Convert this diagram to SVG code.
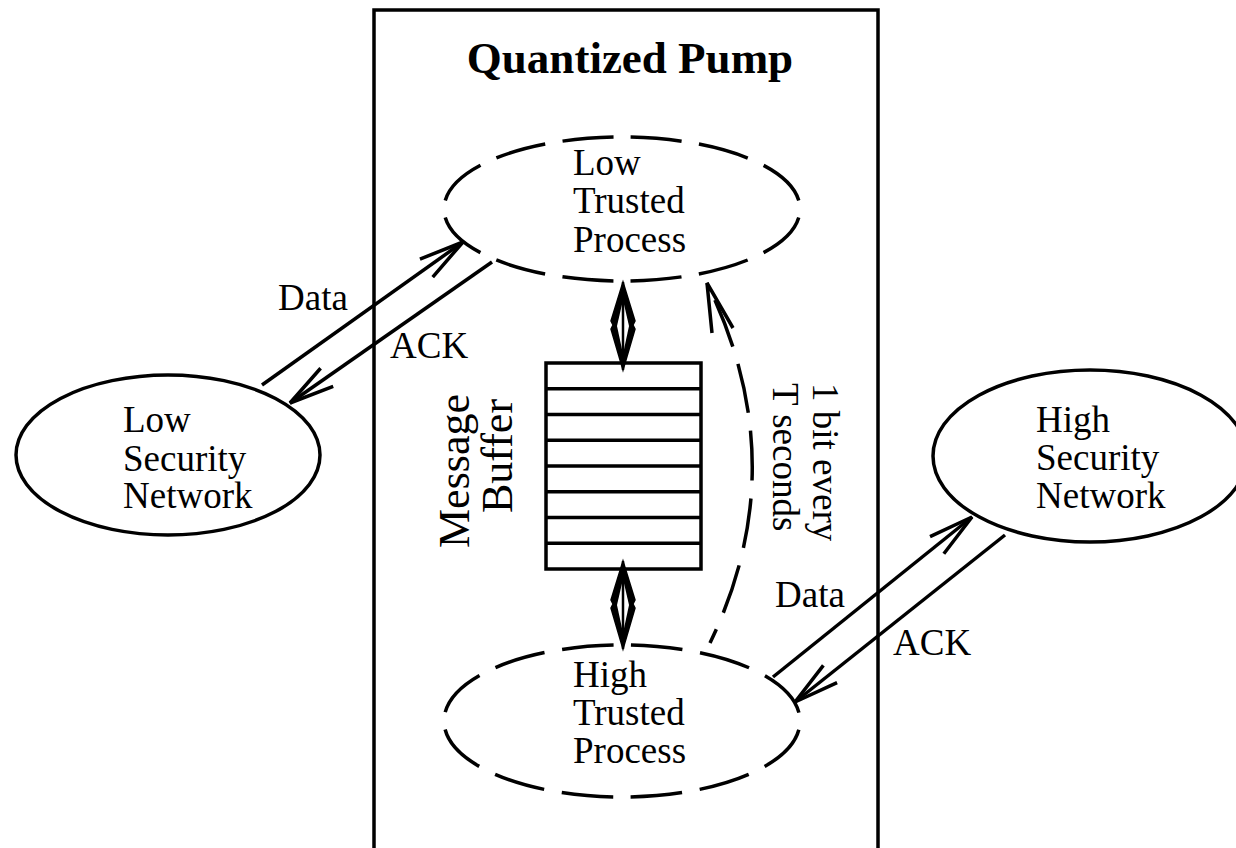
<svg xmlns="http://www.w3.org/2000/svg" width="1236" height="848" viewBox="0 0 1236 848">
<style>
text{font-family:"Liberation Serif","Times New Roman",serif;fill:#000}
.t{font-size:37px}
.ttl{font-size:45px;font-weight:bold}
.mb{font-size:44px}
.solid{fill:none;stroke:#000;stroke-width:3.5}
.dash1{fill:none;stroke:#000;stroke-width:3.5;stroke-dasharray:51 17.4;stroke-dashoffset:59.7}
.dash2{fill:none;stroke:#000;stroke-width:3.5;stroke-dasharray:51.5 17.7;stroke-dashoffset:60.35}
.ln{fill:none;stroke:#000;stroke-width:3.5}
.curve{fill:none;stroke:#000;stroke-width:3.5;stroke-dasharray:50 18;stroke-dashoffset:35}
</style>
<defs>
<marker id="open" markerUnits="userSpaceOnUse" orient="auto" markerWidth="60" markerHeight="40" viewBox="-55 -20 60 40" refX="0" refY="0" overflow="visible">
<path d="M-45,-11 L0,0 L-45,11" fill="none" stroke="#000" stroke-width="3.5" stroke-dasharray="none"/>
</marker>
<g id="dbl">
<path d="M0,0 L-12,39 L-10,43 L-12,47 L0,88 L12,47 L10,43 L12,39 Z" fill="#000" stroke="#000" stroke-width="1.5" stroke-linejoin="miter"/>
<path d="M0,18 L-6,44 L0,72 L6,44 Z" fill="#fff"/>
<line x1="0" y1="0" x2="0" y2="88" stroke="#000" stroke-width="2.5"/>
</g>
</defs>
<rect width="1236" height="848" fill="#fff"/>

<g id="quantized-pump">
<rect x="374" y="10" width="504" height="850" class="solid" stroke-width="4"/>
<text class="ttl" x="630" y="73" text-anchor="middle">Quantized Pump</text>
</g>

<g id="low-trusted-process">
<ellipse cx="622" cy="209" rx="178" ry="72" class="dash1"/>
<text class="t" x="573" y="175">Low</text>
<text class="t" x="573" y="213">Trusted</text>
<text class="t" x="573" y="252">Process</text>
</g>

<g id="high-trusted-process">
<ellipse cx="622" cy="721" rx="178" ry="76" class="dash2"/>
<text class="t" x="573" y="687">High</text>
<text class="t" x="573" y="725">Trusted</text>
<text class="t" x="573" y="763">Process</text>
</g>

<g id="low-security-network">
<ellipse cx="168" cy="455" rx="152" ry="80" class="solid"/>
<text class="t" x="123" y="432">Low</text>
<text class="t" x="123" y="471">Security</text>
<text class="t" x="123" y="508">Network</text>
</g>

<g id="high-security-network">
<ellipse cx="1090" cy="456" rx="157" ry="86" class="solid"/>
<text class="t" x="1036" y="432">High</text>
<text class="t" x="1036" y="470">Security</text>
<text class="t" x="1036" y="508">Network</text>
</g>

<g id="message-buffer">
<rect x="546" y="363" width="155" height="206" class="solid"/>
<path class="ln" d="M546,388.75H701M546,414.5H701M546,440.25H701M546,466H701M546,491.75H701M546,517.5H701M546,543.25H701"/>
<text class="mb" transform="translate(469,548) rotate(-90)">Message</text>
<text class="mb" transform="translate(512,513) rotate(-90)">Buffer</text>
</g>

<g id="connectors">
<line class="ln" x1="262" y1="385" x2="463" y2="242" marker-end="url(#open)"/>
<line class="ln" x1="492" y1="262" x2="290" y2="403" marker-end="url(#open)"/>
<line class="ln" x1="773" y1="677" x2="972" y2="517" marker-end="url(#open)"/>
<line class="ln" x1="1005" y1="535" x2="795" y2="702" marker-end="url(#open)"/>
<use href="#dbl" x="623" y="282"/>
<use href="#dbl" x="623" y="561"/>
<path class="curve" d="M710,643 Q796,465 707,283"/>
<path class="ln" d="M712,333 L707,283 L733,328" stroke-linejoin="miter"/>
</g>

<g id="labels">
<text class="t" x="278" y="310">Data</text>
<text class="t" x="390" y="358">ACK</text>
<text class="t" x="775" y="607">Data</text>
<text class="t" x="893" y="655">ACK</text>
<text class="t" transform="translate(813,383) rotate(90)">1 bit every</text>
<text class="t" transform="translate(773,383) rotate(90)">T seconds</text>
</g>
</svg>
